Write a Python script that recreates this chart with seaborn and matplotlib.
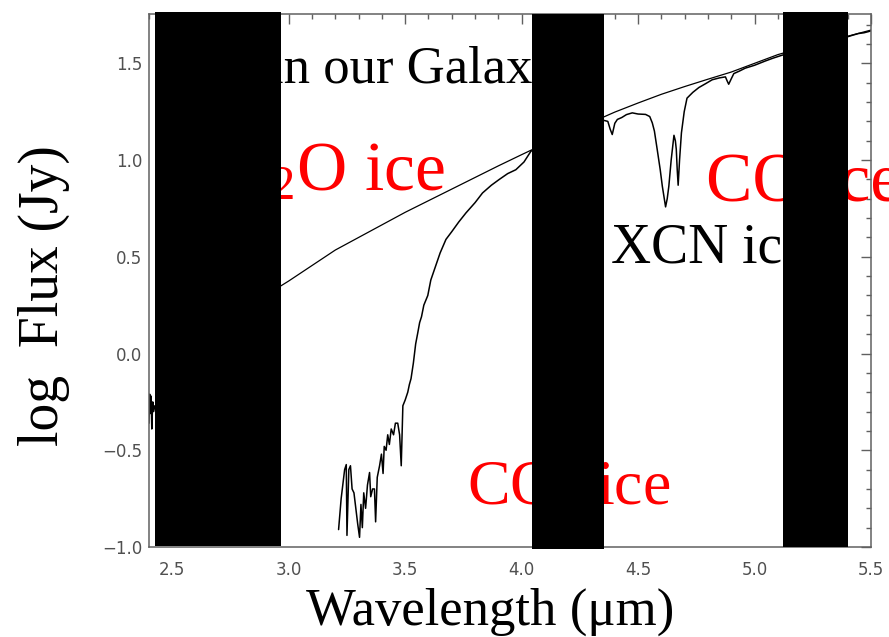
import matplotlib
matplotlib.use("Agg")
import matplotlib.pyplot as plt
from matplotlib.patches import Rectangle
from matplotlib.ticker import MultipleLocator
import numpy as np
import pandas as pd
import seaborn as sns

# ---- observed spectrum (log flux in Jy), split into contiguous segments ----
spec_left_wl = [2.400, 2.403, 2.406, 2.409, 2.412, 2.416, 2.420, 2.425, 2.430]
spec_left_flux = [-0.36, -0.21, -0.31, -0.22, -0.39, -0.25, -0.30, -0.27, -0.28]

spec_main_wl = [
    3.214, 3.225, 3.240, 3.247, 3.250, 3.258, 3.265, 3.272, 3.280, 3.288,
    3.296, 3.304, 3.310, 3.316, 3.322, 3.330, 3.338, 3.347, 3.352, 3.360,
    3.368, 3.373, 3.380, 3.390, 3.398, 3.405, 3.410, 3.418, 3.425, 3.432,
    3.440, 3.450, 3.458, 3.468, 3.476, 3.483, 3.490, 3.500, 3.511, 3.518,
    3.525, 3.535, 3.545, 3.554, 3.562, 3.570, 3.580, 3.597, 3.610, 3.630,
    3.650, 3.675, 3.700, 3.730, 3.761, 3.800, 3.832, 3.870, 3.904, 3.940,
    3.975, 4.010, 4.040,
    4.350, 4.370, 4.380, 4.389, 4.400, 4.411, 4.430, 4.450, 4.475, 4.500,
    4.532, 4.550, 4.561, 4.570, 4.582, 4.595, 4.604, 4.618, 4.625, 4.632,
    4.642, 4.654, 4.660, 4.664, 4.668, 4.672, 4.678, 4.686, 4.698, 4.710,
    4.735, 4.761, 4.790, 4.818, 4.850, 4.875, 4.882, 4.889, 4.900, 4.911,
    4.935, 4.960, 5.000, 5.046, 5.080, 5.118,
    5.396, 5.420, 5.446, 5.470, 5.489, 5.500,
]
spec_main_flux = [
    -0.91, -0.75, -0.60, -0.574, -0.94, -0.60, -0.58, -0.70, -0.72, -0.80,
    -0.88, -0.95, -0.78, -0.90, -0.72, -0.80, -0.68, -0.615, -0.74, -0.70,
    -0.70, -0.87, -0.64, -0.58, -0.52, -0.62, -0.48, -0.50, -0.42, -0.47,
    -0.39, -0.42, -0.36, -0.36, -0.42, -0.58, -0.27, -0.24, -0.20, -0.16,
    -0.13, -0.05, 0.05, 0.107, 0.16, 0.19, 0.25, 0.30, 0.38, 0.45,
    0.52, 0.59, 0.63, 0.68, 0.727, 0.78, 0.83, 0.87, 0.90, 0.93,
    0.95, 0.99, 1.046,
    1.206, 1.20, 1.16, 1.132, 1.19, 1.21, 1.22, 1.235, 1.244, 1.238,
    1.236, 1.225, 1.192, 1.15, 1.055, 0.95, 0.865, 0.758, 0.80, 0.865,
    1.00, 1.128, 1.10, 1.055, 0.95, 0.870, 1.00, 1.14, 1.25, 1.32,
    1.350, 1.375, 1.395, 1.415, 1.425, 1.430, 1.41, 1.392, 1.42, 1.447,
    1.460, 1.475, 1.490, 1.512, 1.527, 1.542,
    1.636, 1.645, 1.654, 1.658, 1.664, 1.668,
]

# ---- smooth continuum ----
cont_wl = [2.94, 3.0, 3.1, 3.2, 3.3, 3.4, 3.5, 3.6, 3.7, 3.8, 3.9, 4.0, 4.1,
           4.2, 4.3, 4.4, 4.5, 4.6, 4.7, 4.8, 4.9, 5.0, 5.1, 5.2, 5.3, 5.4, 5.5]
cont_flux = [0.330, 0.375, 0.455, 0.535, 0.600, 0.665, 0.730, 0.790, 0.850,
             0.910, 0.970, 1.028, 1.085, 1.140, 1.195, 1.248, 1.295, 1.340,
             1.380, 1.418, 1.455, 1.500, 1.545, 1.580, 1.610, 1.640, 1.672]

# ---- annotations: (text, wavelength, log flux, colour, size) ----
annotations = [
    ("in our Galaxy", 2.915, 1.400, "black", 38),
    (r"H$_\mathrm{2}$O ice", 2.705, 0.843, "red", 50),
    (r"CO$_\mathrm{2}$ ice", 3.767, -0.781, "red", 46),
    ("XCN ice", 4.382, 0.470, "black", 40),
    ("CO ice", 4.790, 0.788, "red", 50),
]

spec = pd.DataFrame({
    "wavelength": spec_left_wl + spec_main_wl,
    "flux": spec_left_flux + spec_main_flux,
    "segment": [0] * len(spec_left_wl) + [1] * len(spec_main_wl),
})
cont = pd.DataFrame({"wavelength": cont_wl, "flux": cont_flux})

sns.set_theme(style="white")
plt.rcParams["font.family"] = ["DejaVu Sans"]
plt.rcParams["mathtext.fontset"] = "custom"
plt.rcParams["mathtext.rm"] = "Liberation Serif"
plt.rcParams["mathtext.it"] = "Liberation Serif:italic"
plt.rcParams["mathtext.bf"] = "Liberation Serif:bold"

W, H = 889, 637
fig = plt.figure(figsize=(W / 100, H / 100), dpi=100)
fig.patch.set_facecolor("white")
ax = fig.add_axes([149 / W, (H - 547) / H, 722 / W, 533 / H])
ax.set_facecolor("white")

sns.lineplot(data=spec, x="wavelength", y="flux", units="segment",
             estimator=None, sort=False, color="black", lw=1.1, ax=ax,
             legend=False)
sns.lineplot(data=cont, x="wavelength", y="flux", estimator=None,
             color="black", lw=0.9, ax=ax, legend=False)

ax.set_xlim(2.4, 5.5)
ax.set_ylim(-1.0, 1.755)
ax.xaxis.set_major_locator(MultipleLocator(0.5))
ax.xaxis.set_minor_locator(MultipleLocator(0.1))
ax.yaxis.set_major_locator(MultipleLocator(0.5))
ax.yaxis.set_minor_locator(MultipleLocator(0.1))
ax.tick_params(which="both", direction="in", top=True, right=True,
               color="#606060", width=1.0, labelcolor="#505050",
               labelsize=12)
ax.tick_params(which="major", length=7.5)
ax.tick_params(which="minor", length=3.8)
ax.tick_params(axis="x", which="major", pad=10)
ax.tick_params(axis="y", which="major", pad=5)
for sp in ax.spines.values():
    sp.set_color("#606060")
    sp.set_linewidth(1.1)

ax.set_xlabel("Wavelength (μm)", fontfamily="Liberation Serif", fontsize=38,
              color="black", va="baseline")
ax.xaxis.set_label_coords((490 - 149) / 722, (547 - 625) / 533)
ax.set_ylabel("log  Flux (Jy)", fontfamily="Liberation Serif", fontsize=40,
              color="black")
ax.yaxis.set_label_coords((70 - 149) / 722, (547 - 296) / 533)

for txt, x, y, col, size in annotations:
    ax.text(x, y, txt, color=col, fontsize=size, fontfamily="Liberation Serif",
            ha="left", va="baseline", clip_on=False)

# solid black panels laid over the plot (pixel extents: left, right, top, bottom)
panels = [(154.5, 281.0, 11.7, 545.7), (532.0, 604.0, 13.5, 548.5),
          (783.3, 848.3, 11.7, 546.7)]
for x0, x1, y0, y1 in panels:
    fig.add_artist(Rectangle((x0 / W, (H - y1) / H), (x1 - x0) / W,
                             (y1 - y0) / H, transform=fig.transFigure,
                             facecolor="black", edgecolor="none", zorder=10))

fig.savefig("out.png", dpi=100)
